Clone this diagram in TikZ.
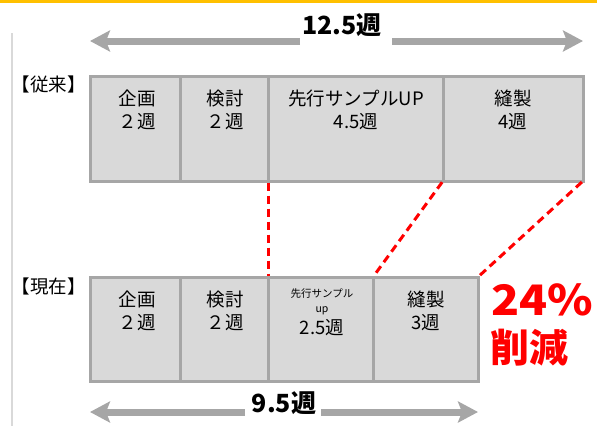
\documentclass[tikz,border=0pt]{standalone}
\usepackage{fontspec}
\setmainfont{Noto Sans CJK JP}
\usetikzlibrary{arrows.meta}
\definecolor{boxfill}{HTML}{D9D9D9}
\definecolor{boxline}{HTML}{A6A6A6}
\definecolor{arrowgray}{HTML}{A6A6A6}
\definecolor{topbar}{HTML}{FFC000}
\definecolor{sideline}{HTML}{D9D9D9}
\definecolor{cutred}{HTML}{FF0000}
\begin{document}
\begin{tikzpicture}[x=1pt,y=-1pt,
  stagebox/.style={draw=boxline, fill=boxfill, line width=3pt, rectangle, inner sep=0pt, outer sep=0pt, anchor=north west},
  stagetext/.style={align=center, inner sep=0pt, font=\fontsize{18.5}{23}\selectfont},
  rowlabel/.style={inner sep=0pt, font=\fontsize{18.5}{22}\selectfont},
  cutline/.style={draw=cutred, line width=3pt, dash pattern=on 8pt off 5pt, shorten <=1.5pt, shorten >=1.5pt},
  span/.style={draw=arrowgray, line width=7pt, -{Stealth[length=20pt,width=21pt,inset=4pt]}},
  spantext/.style={inner sep=0pt, font=\fontsize{25}{30}\selectfont\bfseries},
  gain/.style={inner sep=0pt, anchor=west, text=cutred, font=\fontsize{39}{44}\selectfont\bfseries}]
\useasboundingbox (0,0) rectangle (597,426);
\fill[topbar] (0,0) rectangle (597,3);
\draw[sideline, line width=2pt] (11.5,33) -- (11.5,426);

% row labels
\node[rowlabel] (lab1) at (49,84) {【従来】};
\node[rowlabel] (lab2) at (49,286) {【現在】};

% top row
\node[stagebox, minimum width=90pt, minimum height=105pt] (b1) at (90,76) {};
\node[stagebox, minimum width=88pt, minimum height=105pt] (b2) at (180,76) {};
\node[stagebox, minimum width=175pt, minimum height=105pt] (b3) at (268,76) {};
\node[stagebox, minimum width=140pt, minimum height=105pt] (b4) at (443,76) {};
\node[stagetext] (b1t) at (137,110) {企画\\２週};
\node[stagetext] (b2t) at (225,110) {検討\\２週};
\node[stagetext] (b3t) at (356,110) {先行サンプルUP\\4.5週};
\node[stagetext] (b4t) at (513,110) {縫製\\4週};

% bottom row
\node[stagebox, minimum width=90pt, minimum height=104pt] (c1) at (90,277) {};
\node[stagebox, minimum width=88pt, minimum height=104pt] (c2) at (180,277) {};
\node[stagebox, minimum width=105pt, minimum height=104pt] (c3) at (268,277) {};
\node[stagebox, minimum width=105pt, minimum height=104pt] (c4) at (373,277) {};
\node[stagetext] (c1t) at (137,311) {企画\\２週};
\node[stagetext] (c2t) at (225,311) {検討\\２週};
\node[inner sep=0pt, align=center, font=\fontsize{10.5}{15}\selectfont] (c3s) at (322,302) {先行サンプル\\up};
\node[stagetext] (c3t) at (322,328) {2.5週};
\node[stagetext] (c4t) at (426,311) {縫製\\3週};

% cut lines
\draw[cutline] (b3.south west) -- (c3.north west);
\draw[cutline] (b4.south west) -- (c4.north west);
\draw[cutline] (b4.south east) -- (c4.north east);

% totals
\node[spantext] (tot1) at (342,25) {12.5週};
\coordinate (a1l) at (90,41);
\coordinate (a1r) at (583,41);
\coordinate (a1m1) at (300,41);
\coordinate (a1m2) at (392,41);
\draw[span] (a1m1) -- (a1l);
\draw[span] (a1m2) -- (a1r);

\node[spantext] (tot2) at (284,403) {9.5週};
\coordinate (a2l) at (90,412);
\coordinate (a2r) at (478,412);
\coordinate (a2m1) at (245,412);
\coordinate (a2m2) at (321,412);
\draw[span] (a2m1) -- (a2l);
\draw[span] (a2m2) -- (a2r);

% reduction
\node[gain, font=\fontsize{42}{46}\selectfont\bfseries, xscale=1.1] (g1) at (491,300) {24\%};
\node[gain] (g2) at (490,348) {削減};
\end{tikzpicture}
\end{document}
